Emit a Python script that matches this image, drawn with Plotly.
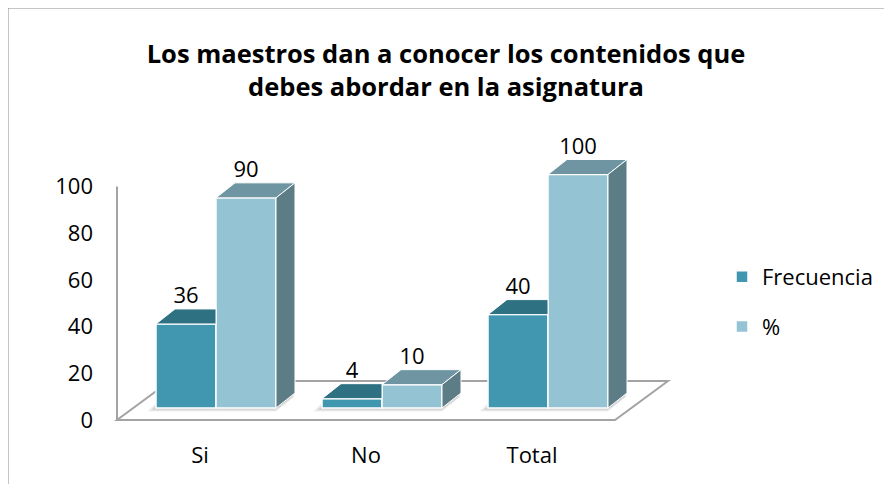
import plotly.graph_objects as go

# ---------------- data ----------------
categories = ["Si", "No", "Total"]
frecuencia = [36, 4, 40]
porcentaje = [90, 10, 100]
series_names = ["Frecuencia", "%"]
y_tick_values = [0, 20, 40, 60, 80, 100]
title_text = "Los maestros dan a conocer los contenidos que<br>debes abordar en la asignatura"

# ---------------- styling / geometry ----------------
W, H = 892, 484
PAGE_OFF = 8                       # default page body margin
# plot area in screenshot pixel coordinates
PLOT_L, PLOT_R, PLOT_T, PLOT_B = 100, 700, 120, 440
ML, MR = PLOT_L - PAGE_OFF, W - PLOT_R + PAGE_OFF
MT, MB = PLOT_T - PAGE_OFF, H - PLOT_B + PAGE_OFF

CAT_PX0, CAT_STEP = 216, 166      # pixel centre of first category (bar plane) and spacing
BASE_PY, PPU = 408, 2.335         # pixel of value 0 in bar plane, pixels per unit

def ux(px):
    return (px - CAT_PX0) / CAT_STEP

def uy(py):
    return (BASE_PY - py) / PPU

def paper_x(px):
    return (px - PLOT_L) / (PLOT_R - PLOT_L)

def paper_y(py):
    return (PLOT_B - py) / (PLOT_B - PLOT_T)

BW = 60 / CAT_STEP                # bar width (units)
DX, DY = 19 / CAT_STEP, 15 / PPU  # bar depth offset
FX, FY = -16 / CAT_STEP, -12 / PPU  # front plane offset
FLX, FLY = 53 / CAT_STEP, 39 / PPU  # floor depth

C_FREC = "#4297B0"
C_FREC_TOP = "#2E7183"
C_PCT = "#94C3D4"
C_PCT_TOP = "#6E95A1"
C_PCT_SIDE = "#5C7C86"
C_LINE = "#A3A3A3"
FONT = "Open Sans"
FS = 22

n = len(categories)
idx = list(range(n))

fig = go.Figure()

# front faces (bars)
fig.add_trace(go.Bar(
    x=idx, y=frecuencia, width=BW, offset=-BW, name=series_names[0],
    marker=dict(color=C_FREC, line=dict(color="white", width=1.5)),
    legendgroup="a", hoverinfo="skip"))
fig.add_trace(go.Bar(
    x=idx, y=porcentaje, width=BW, offset=0, name=series_names[1],
    marker=dict(color=C_PCT, line=dict(color="white", width=1.5)),
    legendgroup="b", hoverinfo="skip"))

# 3D top/side faces derived from data
def poly_trace(xs, ys, color):
    return go.Scatter(x=xs, y=ys, mode="lines", fill="toself", fillcolor=color,
                      line=dict(color="white", width=1), showlegend=False,
                      hoverinfo="skip")

fx, fy = [], []
for i in idx:
    v = frecuencia[i]
    x0, x1 = i - BW, i
    if porcentaje[i] > v:
        pts = [(x0, v), (x1, v), (x1, v + DY), (x0 + DX, v + DY), (x0, v)]
    else:
        pts = [(x0, v), (x1, v), (x1 + DX, v + DY), (x0 + DX, v + DY), (x0, v)]
    fx += [p[0] for p in pts] + [None]
    fy += [p[1] for p in pts] + [None]
fig.add_trace(poly_trace(fx, fy, C_FREC_TOP))

tx, ty, sx, sy = [], [], [], []
for i in idx:
    v = porcentaje[i]
    x0, x1 = i, i + BW
    pts = [(x0, v), (x1, v), (x1 + DX, v + DY), (x0 + DX, v + DY), (x0, v)]
    tx += [p[0] for p in pts] + [None]
    ty += [p[1] for p in pts] + [None]
    pts = [(x1, 0), (x1, v), (x1 + DX, v + DY), (x1 + DX, DY), (x1, 0)]
    sx += [p[0] for p in pts] + [None]
    sy += [p[1] for p in pts] + [None]
fig.add_trace(poly_trace(tx, ty, C_PCT_TOP))
fig.add_trace(poly_trace(sx, sy, C_PCT_SIDE))

# data labels
fig.add_trace(go.Scatter(
    x=[i - BW / 2 for i in idx] + [i + BW / 2 for i in idx],
    y=[v + DY for v in frecuencia] + [v + DY for v in porcentaje],
    text=[str(v) for v in frecuencia] + [str(v) for v in porcentaje],
    mode="text", textposition="top center",
    textfont=dict(family=FONT, size=FS, color="#000000"),
    showlegend=False, hoverinfo="skip", cliponaxis=False))

# floor, axis line, shadows (layout shapes)
fl_x0, fl_x1 = -0.5 + FX, n - 0.5 + FX
floor_path = (f"M{fl_x0},{FY} L{fl_x1},{FY} L{fl_x1 + FLX},{FY + FLY} "
              f"L{fl_x0 + FLX},{FY + FLY} Z")
shapes = [
    dict(type="path", path=floor_path, xref="x", yref="y", layer="below",
         line=dict(color=C_LINE, width=2), fillcolor="rgba(0,0,0,0)"),
    dict(type="line", xref="x", yref="y", layer="below",
         x0=fl_x0, x1=fl_x0, y0=FY, y1=FY + max(y_tick_values),
         line=dict(color=C_LINE, width=2)),
]
for i in idx:
    a, b = i - BW, i + BW
    for k, alpha in enumerate([0.06, 0.08, 0.10]):
        e = (3 - k) * 3 / CAT_STEP
        e2 = (3 - k) * 1.2 / PPU
        path = (f"M{a - e},{-e2} L{b},{-e2} L{b + DX},{DY - e2} "
                f"L{a + DX - e},{DY} Z")
        shapes.append(dict(type="path", path=path, xref="x", yref="y", layer="below",
                           line=dict(width=0), fillcolor=f"rgba(0,0,0,{alpha})"))
# outer chart border
shapes.append(dict(type="rect", xref="paper", yref="paper",
                   x0=paper_x(7.5), x1=paper_x(905),
                   y0=paper_y(500), y1=paper_y(7.5),
                   line=dict(color="#8C8C8C", width=2), fillcolor="rgba(0,0,0,0)"))

fig.update_layout(
    width=W, height=H,
    margin=dict(l=ML, r=MR, t=MT, b=MB, autoexpand=False),
    paper_bgcolor="white", plot_bgcolor="white",
    barmode="overlay",
    shapes=shapes,
    font=dict(family=FONT, size=FS, color="#000000"),
    title=dict(text=f"<b>{title_text}</b>", x=(446 - PAGE_OFF) / W, xref="container",
               xanchor="center", y=1 - (63 - PAGE_OFF) / H, yref="container",
               yanchor="middle",
               font=dict(family=FONT, size=25.5, color="#000000")),
    xaxis=dict(range=[ux(PLOT_L), ux(PLOT_R)], showgrid=False, zeroline=False,
               showline=False, tickvals=[i + FX for i in idx], ticktext=categories,
               ticks="", tickfont=dict(family=FONT, size=FS)),
    yaxis=dict(range=[uy(PLOT_B), uy(PLOT_T)], showgrid=False, zeroline=False,
               showline=False, tickvals=[v + FY for v in y_tick_values],
               ticktext=[str(v) for v in y_tick_values], ticks="",
               ticklabelstandoff=6, tickfont=dict(family=FONT, size=FS)),
    legend=dict(x=paper_x(722), xanchor="left",
                y=paper_y(256), yanchor="top",
                font=dict(family=FONT, size=FS), tracegroupgap=18,
                bgcolor="rgba(0,0,0,0)"),
)

fig.write_html("out.html")
